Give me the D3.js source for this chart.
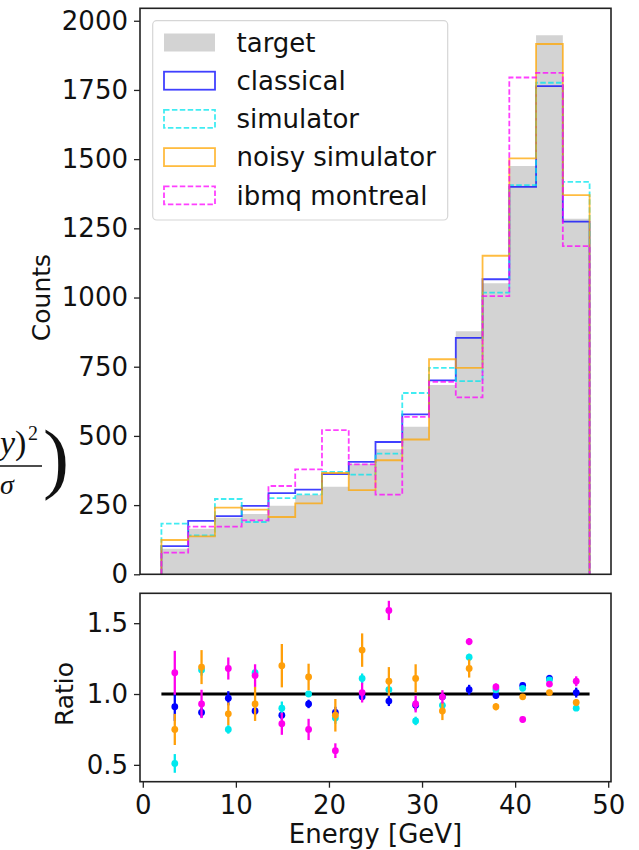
<!DOCTYPE html>
<html>
<head>
<meta charset="utf-8">
<script src="https://cdn.jsdelivr.net/npm/d3@7"></script>
<style>
  html, body { margin: 0; padding: 0; background: #fff; }
  svg { display: block; font-family: "DejaVu Sans", sans-serif; }
</style>
</head>
<body>
<div id="chart"></div>
<script>
// bin edges in GeV
var binEdges = [2, 4.875, 7.75, 10.625, 13.5, 16.375, 19.25, 22.125, 25, 27.875, 30.75, 33.625, 36.5, 39.375, 42.25, 45.125, 48];

var seriesNames = ['classical', 'simulator', 'noisy simulator', 'ibmq montreal'];

var target    = [92, 165, 204, 218, 248, 287, 316, 399, 452, 533, 684, 878, 1052, 1475, 1948, 1285];
var classical = [102, 193, 210, 247, 293, 306, 362, 406, 478, 578, 701, 854, 1066, 1400, 1764, 1274];
var simulator = [183, 141, 272, 189, 275, 289, 370, 360, 436, 655, 746, 698, 1018, 1406, 1776, 1418];
var noisySim  = [124, 137, 241, 234, 207, 256, 366, 304, 412, 487, 777, 746, 1151, 1503, 1916, 1370];
var ibmq      = [78, 172, 172, 195, 319, 379, 521, 397, 288, 569, 695, 639, 1005, 1795, 1812, 1186];

// ratio panel (target / model) and error bars
var ratioClassical = [0.91, 0.87, 0.97, 0.88, 0.85, 0.93, 0.87, 0.98, 0.95, 0.92, 0.98, 1.03, 0.99, 1.06, 1.11, 1.01];
var ratioSimulator = [0.51, 1.17, 0.75, 1.15, 0.90, 1.00, 0.83, 1.11, 1.03, 0.81, 0.92, 1.26, 1.03, 1.04, 1.10, 0.90];
var ratioNoisy     = [0.75, 1.19, 0.86, 0.93, 1.20, 1.12, 0.85, 1.31, 1.09, 1.11, 0.88, 1.18, 0.91, 0.98, 1.01, 0.94];
var ratioIbmq      = [1.15, 0.93, 1.18, 1.13, 0.79, 0.75, 0.60, 1.01, 1.59, 0.93, 0.98, 1.37, 1.05, 0.82, 1.07, 1.09];

var errClassical = [0.10, 0.035, 0.05, 0.03, 0.03, 0.03, 0.04, 0.025, 0.035, 0.035, 0.02, 0.035, 0.025, 0.02, 0.025, 0.035];
var errSimulator = [0.066, 0.04, 0.03, 0.03, 0.047, 0.02, 0.04, 0.035, 0.02, 0.03, 0.025, 0.025, 0.02, 0.02, 0.02, 0.02];
var errNoisy     = [0.11, 0.12, 0.08, 0.12, 0.153, 0.094, 0.115, 0.118, 0.10, 0.10, 0.064, 0.064, 0.025, 0.02, 0.02, 0.025];
var errIbmq      = [0.155, 0.10, 0.078, 0.08, 0.078, 0.075, 0.052, 0.07, 0.068, 0.06, 0.047, 0.025, 0.025, 0.02, 0.02, 0.035];

var countTicks = [0, 250, 500, 750, 1000, 1250, 1500, 1750, 2000];
var ratioTicks = [0.5, 1.0, 1.5];
var energyTicks = [0, 10, 20, 30, 40, 50];

var styles = [
    { color: '#0000ff', dash: null,      dot: '#0000ff' },
    { color: '#00e5ee', dash: '5.5,2.4', dot: '#00e8ee' },
    { color: '#ffa500', dash: null,      dot: '#ff9f0a' },
    { color: '#ff00ff', dash: '5.5,2.4', dot: '#ff00ee' }
];

var W = 639, H = 850;
var FS = 26;
var svg = d3.select('#chart').append('svg')
    .attr('width', W)
    .attr('height', H);

var x = d3.scaleLinear().domain([-0.3, 50.3]).range([140, 611]);
var yTop = d3.scaleLinear().domain([0, 2045]).range([574.3, 8.3]);
var yBot = d3.scaleLinear().domain([0.381, 1.711]).range([781.7, 593.3]);

function styleAxis(g) {
    g.select('.domain').remove();
    g.selectAll('line').attr('stroke', '#222').attr('stroke-width', 1.3);
    g.selectAll('text').attr('font-size', FS).attr('fill', '#111').attr('font-family', '"DejaVu Sans", sans-serif');
}

// formula fragment peeking in from the left
var frag = svg.append('g').attr('font-family', '"Liberation Serif", serif').attr('fill', '#111');
frag.append('text').attr('x', 0).attr('y', 454).attr('font-size', 34)
    .html('<tspan font-style="italic">y</tspan>)');
frag.append('text').attr('x', 28).attr('y', 440).attr('font-size', 20).text('2');
frag.append('line').attr('x1', 0).attr('x2', 42).attr('y1', 466).attr('y2', 466)
    .attr('stroke', '#111').attr('stroke-width', 1.5);
frag.append('text').attr('x', 0).attr('y', 494).attr('font-size', 28).attr('font-style', 'italic').text('σ');
frag.append('text').attr('x', 43).attr('y', 484).attr('font-size', 78).attr('font-weight', 300).text(')');

// --- top panel: histograms
var histPanel = svg.append('g');
var nb = target.length;

function stepPoints(counts) {
    var pts = [[binEdges[0], 0]];
    binEdges.forEach(function(e, i) {
        pts.push([e, i < nb ? counts[i] : counts[nb - 1]]);
    });
    pts.push([binEdges[nb], 0]);
    return pts;
}

histPanel.append('path')
    .datum(binEdges.map(function(e, i) { return [e, i < nb ? target[i] : target[nb - 1]]; }))
    .attr('fill', '#d3d3d3')
    .attr('d', d3.area()
        .x(function(d) { return x(d[0]); })
        .y0(yTop(0))
        .y1(function(d) { return yTop(d[1]); })
        .curve(d3.curveStepAfter));

var stepLine = d3.line()
    .x(function(d) { return x(d[0]); })
    .y(function(d) { return yTop(d[1]); })
    .curve(d3.curveStepAfter);

[classical, simulator, noisySim, ibmq].forEach(function(counts, k) {
    histPanel.append('path')
        .datum(stepPoints(counts))
        .attr('fill', 'none')
        .attr('stroke', styles[k].color)
        .attr('stroke-opacity', 0.75)
        .attr('stroke-width', 1.8)
        .attr('stroke-dasharray', styles[k].dash)
        .attr('d', stepLine);
});

histPanel.append('g')
    .attr('transform', 'translate(140,0)')
    .call(d3.axisLeft(yTop).tickValues(countTicks).tickFormat(d3.format('d')).tickSize(6).tickPadding(6))
    .call(styleAxis);

histPanel.append('rect')
    .attr('x', 140).attr('y', 8.3)
    .attr('width', 471).attr('height', 566)
    .attr('fill', 'none').attr('stroke', '#222').attr('stroke-width', 1.6);

histPanel.append('text')
    .attr('transform', 'translate(50,' + yTop(1000) + ') rotate(-90)')
    .attr('text-anchor', 'middle')
    .attr('font-size', 25)
    .attr('fill', '#111')
    .text('Counts');

// legend
var legend = histPanel.append('g');
legend.append('rect')
    .attr('x', 152.7).attr('y', 20.7)
    .attr('width', 295).attr('height', 199.3)
    .attr('rx', 4)
    .attr('fill', '#fff').attr('fill-opacity', 0.8)
    .attr('stroke', '#d6d6d6').attr('stroke-width', 1.2);

var legendNames = ['target'].concat(seriesNames);
legendNames.forEach(function(name, i) {
    var cy = 42.5 + i * 38.2;
    var patch = legend.append('rect')
        .attr('x', 164).attr('y', cy - 9)
        .attr('width', 51).attr('height', 18);
    if (i === 0) {
        patch.attr('fill', '#d3d3d3');
    } else {
        var s = styles[i - 1];
        patch.attr('fill', 'none')
            .attr('stroke', s.color).attr('stroke-opacity', 0.75)
            .attr('stroke-width', 1.8)
            .attr('stroke-dasharray', s.dash);
    }
    legend.append('text')
        .attr('x', 236.5).attr('y', cy)
        .attr('dy', '0.36em')
        .attr('font-size', FS)
        .attr('fill', '#111')
        .text(name);
});

// --- bottom panel: ratios
var ratioPanel = svg.append('g');
var centers = d3.range(nb).map(function(i) { return (binEdges[i] + binEdges[i + 1]) / 2; });

ratioPanel.append('line')
    .attr('x1', x(binEdges[0])).attr('x2', x(binEdges[nb]))
    .attr('y1', yBot(1)).attr('y2', yBot(1))
    .attr('stroke', '#000').attr('stroke-width', 3);

var ratios = [ratioClassical, ratioSimulator, ratioNoisy, ratioIbmq];
var errs = [errClassical, errSimulator, errNoisy, errIbmq];

ratios.forEach(function(r, k) {
    var g = ratioPanel.append('g');
    var pts = centers.map(function(c, i) { return { x: c, r: r[i], e: errs[k][i] }; });
    g.selectAll('line.err').data(pts).enter().append('line')
        .attr('class', 'err')
        .attr('x1', function(d) { return x(d.x); })
        .attr('x2', function(d) { return x(d.x); })
        .attr('y1', function(d) { return yBot(d.r - d.e); })
        .attr('y2', function(d) { return yBot(d.r + d.e); })
        .attr('stroke', styles[k].dot).attr('stroke-width', 2.3);
    g.selectAll('circle').data(pts).enter().append('circle')
        .attr('cx', function(d) { return x(d.x); })
        .attr('cy', function(d) { return yBot(d.r); })
        .attr('r', 3.4)
        .attr('fill', styles[k].dot);
});

ratioPanel.append('g')
    .attr('transform', 'translate(140,0)')
    .call(d3.axisLeft(yBot).tickValues(ratioTicks).tickFormat(d3.format('.1f')).tickSize(6).tickPadding(6))
    .call(styleAxis);

ratioPanel.append('g')
    .attr('transform', 'translate(0,781.7)')
    .call(d3.axisBottom(x).tickValues(energyTicks).tickSize(6).tickPadding(8))
    .call(styleAxis);

ratioPanel.append('rect')
    .attr('x', 140).attr('y', 593.3)
    .attr('width', 471).attr('height', 188.4)
    .attr('fill', 'none').attr('stroke', '#222').attr('stroke-width', 1.6);

ratioPanel.append('text')
    .attr('transform', 'translate(73,' + yBot(1) + ') rotate(-90)')
    .attr('text-anchor', 'middle')
    .attr('font-size', 25)
    .attr('fill', '#111')
    .text('Ratio');

ratioPanel.append('text')
    .attr('x', x(25)).attr('y', 843)
    .attr('text-anchor', 'middle')
    .attr('font-size', FS)
    .attr('fill', '#111')
    .text('Energy [GeV]');
</script>
</body>
</html>
